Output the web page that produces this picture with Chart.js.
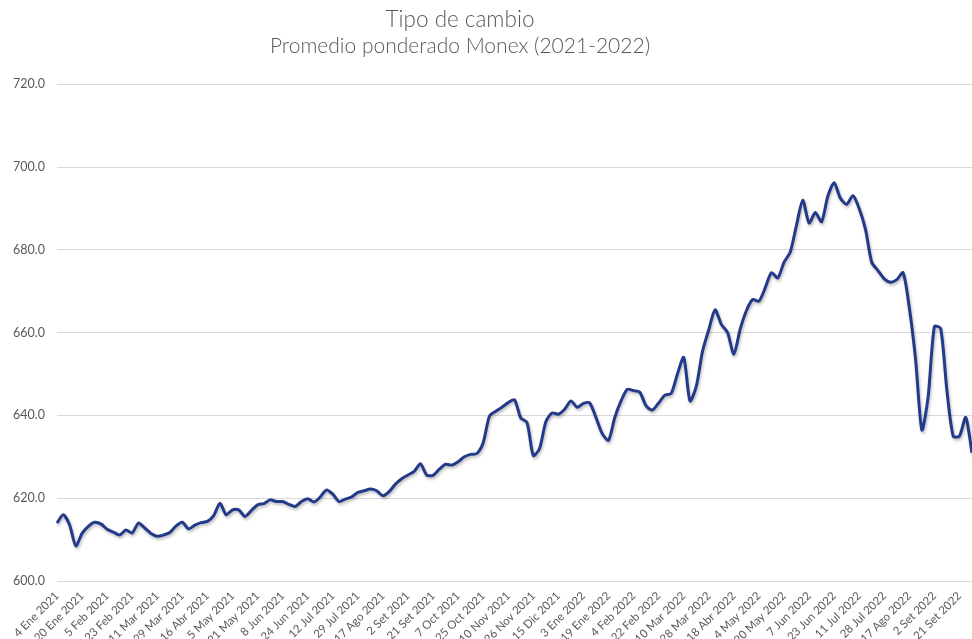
<!DOCTYPE html>
<html>
<head>
<meta charset="utf-8">
<title>Tipo de cambio</title>
<script src="https://cdn.jsdelivr.net/npm/chart.js@4.4.1/dist/chart.umd.min.js"></script>
<style>
  html, body { margin: 0; padding: 0; background: #fff; overflow: hidden; }
  #wrap { width: 972px; height: 639px; position: relative; }
</style>
</head>
<body>
<div id="wrap"><canvas id="grafico"></canvas></div>
<script>
// etiquetas del eje x (una cada 4 observaciones)
const tickLabels = [
    '4 Ene 2021', '20 Ene 2021', '5 Feb 2021', '23 Feb 2021', '11 Mar 2021', '29 Mar 2021',
    '16 Abr 2021', '5 May 2021', '21 May 2021', '8 Jun 2021', '24 Jun 2021', '12 Jul 2021',
    '29 Jul 2021', '17 Ago 2021', '2 Set 2021', '21 Set 2021', '7 Oct 2021', '25 Oct 2021',
    '10 Nov 2021', '26 Nov 2021', '15 Dic 2021', '3 Ene 2022', '19 Ene 2022', '4 Feb 2022',
    '22 Feb 2022', '10 Mar 2022', '28 Mar 2022', '18 Abr 2022', '4 May 2022', '20 May 2022',
    '7 Jun 2022', '23 Jun 2022', '11 Jul 2022', '28 Jul 2022', '17 Ago 2022', '2 Set 2022',
    '21 Set 2022'
];

// promedio ponderado Monex, cada 3 dias habiles
const tipoCambio = [
    614.0, 616.0, 613.6, 608.5, 611.5, 613.2, 614.2, 613.8, 612.5, 611.8,
    611.1, 612.3, 611.6, 614.0, 612.8, 611.5, 610.8, 611.1, 611.7, 613.3,
    614.2, 612.6, 613.5, 614.1, 614.4, 615.8, 618.8, 616.0, 617.2, 617.2,
    615.6, 617.0, 618.4, 618.7, 619.6, 619.2, 619.2, 618.5, 618.0, 619.2,
    619.9, 619.1, 620.3, 622.0, 621.0, 619.2, 619.8, 620.3, 621.4, 621.8,
    622.2, 621.8, 620.6, 621.6, 623.4, 624.7, 625.6, 626.5, 628.3, 625.6,
    625.5, 627.0, 628.2, 628.0, 628.8, 630.0, 630.6, 630.8, 633.4, 639.8,
    641.0, 642.0, 643.1, 643.8, 639.4, 638.3, 630.3, 632.0, 638.5, 640.6,
    640.3, 641.5, 643.5, 642.0, 642.9, 643.0, 639.5, 635.6, 634.0, 639.5,
    643.5, 646.3, 646.0, 645.6, 642.3, 641.3, 643.0, 644.9, 645.3, 650.0,
    654.0, 643.5, 647.0, 655.5, 660.7, 665.5, 662.0, 660.0, 654.8, 660.8,
    665.3, 668.0, 667.6, 670.8, 674.5, 673.2, 677.0, 679.5, 686.0, 692.0,
    686.5, 689.0, 686.8, 693.0, 696.2, 692.5, 691.0, 693.1, 690.0, 685.0,
    677.0, 675.0, 673.0, 672.2, 672.8, 674.5, 666.0, 653.5, 636.5, 644.5,
    661.5, 661.0, 646.0, 635.0, 635.0, 639.5, 631.0
];

const categorias = tipoCambio.map((v, i) => i % 4 === 0 ? tickLabels[i / 4] : '');

const gris = '#595959';

// titulo y subtitulo corridos a la izquierda, centrados en x=460
const tituloCorrido = {
    id: 'tituloCorrido',
    afterLayout(c) {
        c.boxes.forEach(b => {
            if (b.options && b.options.position === 'top' && b.options.text) {
                b.left = 0;
                b.right = 920;
            }
        });
    }
};

// sombra suave bajo la linea
const sombra = {
    id: 'sombra',
    beforeDatasetDraw(c) {
        const ctx = c.ctx;
        ctx.save();
        ctx.shadowColor = 'rgba(0, 0, 0, 0.28)';
        ctx.shadowBlur = 3;
        ctx.shadowOffsetX = 1;
        ctx.shadowOffsetY = 2;
    },
    afterDatasetDraw(c) {
        c.ctx.restore();
    }
};

let chart;

const ctx = document.getElementById('grafico').getContext('2d');

chart = new Chart(ctx, {
    type: 'line',
    data: {
        labels: categorias,
        datasets: [{
            label: 'Tipo de cambio',
            data: tipoCambio,
            borderColor: '#23398a',
            borderWidth: 3,
            pointRadius: 0,
            tension: 0.25,
            fill: false
        }]
    },
    options: {
        responsive: true,
        maintainAspectRatio: false,
        animation: false,
        layout: { padding: 0 },
        plugins: {
            legend: { display: false },
            tooltip: { enabled: false },
            title: {
                display: true,
                text: 'Tipo de cambio',
                color: gris,
                font: { family: 'Lato', size: 22.5, weight: 300, lineHeight: 1.2 },
                padding: { top: 6, bottom: 0 }
            },
            subtitle: {
                display: true,
                text: 'Promedio ponderado Monex (2021-2022)',
                color: gris,
                font: { family: 'Lato', size: 21, weight: 300, lineHeight: 1.3 },
                padding: { top: 0, bottom: 24 }
            }
        },
        scales: {
            x: {
                grid: { display: false, drawTicks: false },
                border: { display: false },
                ticks: {
                    autoSkip: false,
                    maxRotation: 45,
                    minRotation: 45,
                    padding: 8,
                    color: gris,
                    font: { family: 'Lato', size: 11.5 },
                    callback: (v, i) => i % 4 === 0 ? tickLabels[i / 4] : null
                },
                afterFit(s) {
                    s.height = 58;
                    s.paddingLeft = 0;
                    s.paddingRight = 0;
                }
            },
            y: {
                min: 600,
                max: 720,
                grid: { color: '#d9d9d9', drawTicks: false },
                border: { display: false },
                ticks: {
                    stepSize: 20,
                    padding: 12,
                    color: gris,
                    font: { family: 'Lato', size: 12.5 },
                    callback: v => v.toFixed(1)
                },
                afterFit(s) {
                    s.width = 57;
                }
            }
        }
    },
    plugins: [tituloCorrido, sombra]
});
</script>
</body>
</html>
